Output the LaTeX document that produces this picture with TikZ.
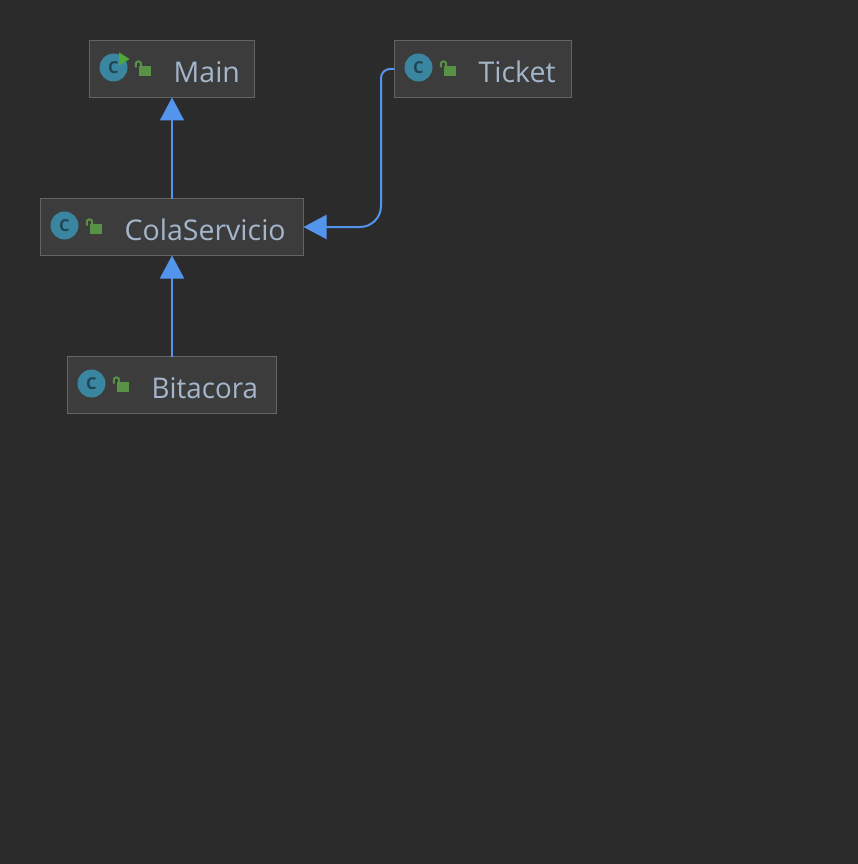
\documentclass[tikz,border=0pt]{standalone}
\usepackage{fontspec}
\setmainfont{Open Sans}
\usetikzlibrary{arrows.meta,positioning}
\definecolor{canvas}{HTML}{2B2B2B}
\definecolor{boxfill}{HTML}{3C3C3C}
\definecolor{boxline}{HTML}{646464}
\definecolor{linkblue}{HTML}{5394EC}
\definecolor{nametext}{HTML}{A4B6CC}
\definecolor{discblue}{HTML}{3A85A0}
\definecolor{discletter}{HTML}{1F4655}
\definecolor{lockgreen}{HTML}{599145}
\definecolor{playgreen}{HTML}{4FA83A}

\begin{document}
\begin{tikzpicture}[
    x=1pt,
    y=-1pt,
    node distance=101pt and 140pt,
    classbox/.style={draw=boxline, line width=1pt, fill=boxfill, minimum height=57pt, outer sep=0pt, inner sep=0pt},
    classname/.style={font=\fontsize{28.5}{30}\selectfont, text=nametext, inner sep=0pt, text height=26.4pt, text depth=0pt},
    arrow/.style={-{Triangle[length=23pt,width=24pt]}, line width=2pt, color=linkblue},
    classicon/.pic={
        \node[circle, fill=discblue, minimum size=28pt, inner sep=0pt, font=\bfseries\fontsize{16.5}{16.5}\selectfont, text=discletter] (-disc) at (24,-1.5) {C};
        \fill[lockgreen] (49,-3) rectangle (61.5,7);
        \draw[lockgreen, line width=2pt, rounded corners=2.4pt] (46.3,-1.5) -- (46.3,-7.6) -- (51.6,-7.6) -- (51.6,-3);
    },
    runmark/.pic={
        \fill[playgreen] (29.5,-16.7) -- (40,-10) -- (29.5,-3.3) -- cycle;
    }
]

\useasboundingbox[fill=canvas] (0,0) rectangle (858,864);

% Classes
\node[classbox, minimum width=165pt] (main) at (172,69) {};
\node[classbox, minimum width=177pt, right=of main] (ticket) {};
\node[classbox, minimum width=263pt, below=of main] (colaservicio) {};
\node[classbox, minimum width=209pt, below=of colaservicio] (bitacora) {};

% Icons
\pic (mainicon) at (main.west) {classicon};
\pic (mainrun) at (main.west) {runmark};
\pic (ticketicon) at (ticket.west) {classicon};
\pic (colaicon) at (colaservicio.west) {classicon};
\pic (bitacoraicon) at (bitacora.west) {classicon};

% Names
\node[classname, right=84pt of main.west] (mainname) {Main};
\node[classname, right=84pt of ticket.west] (ticketname) {Ticket};
\node[classname, right=84pt of colaservicio.west] (colaname) {ColaServicio};
\node[classname, right=84pt of bitacora.west] (bitacoraname) {\addfontfeature{FakeStretch=0.972}Bitacora};

% Arrows
\coordinate (elbow) at (381,150);
\draw[arrow] (colaservicio) -- (main);
\draw[arrow] (bitacora) -- (colaservicio);
\draw[arrow] (ticket.west) [rounded corners=9pt] -| (elbow) [rounded corners=21pt] |- (colaservicio.east);

\end{tikzpicture}
\end{document}
